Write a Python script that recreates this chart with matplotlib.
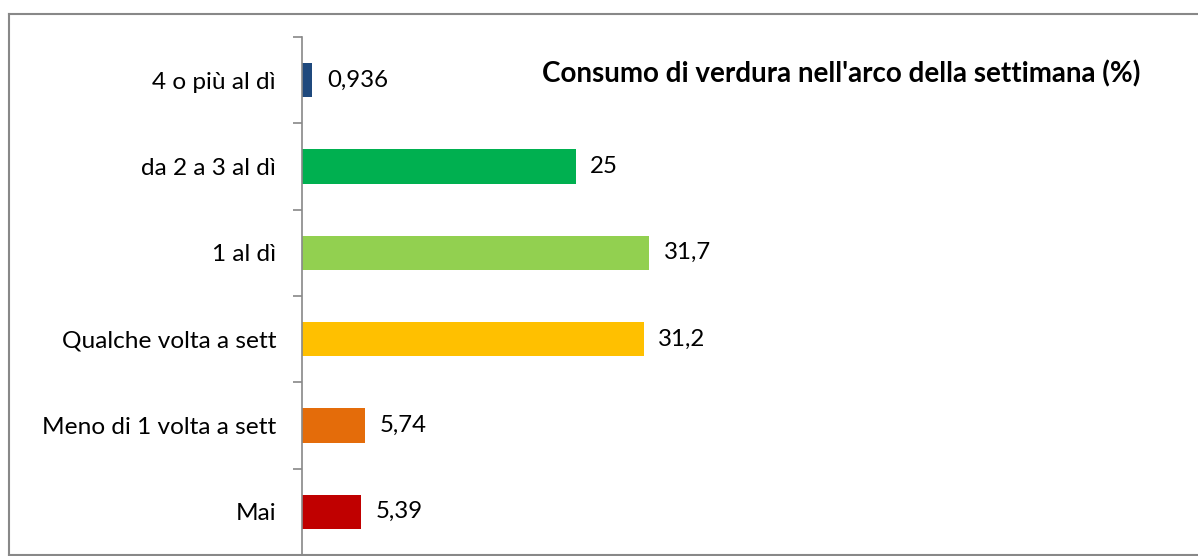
import matplotlib
matplotlib.use("Agg")
import matplotlib.pyplot as plt
from matplotlib.lines import Line2D
import numpy as np

# dati
categorie = ["4 o più al dì", "da 2 a 3 al dì", "1 al dì",
             "Qualche volta a sett", "Meno di 1 volta a sett", "Mai"]
valori = [0.936, 25, 31.7, 31.2, 5.74, 5.39]
etichette = ["0,936", "25", "31,7", "31,2", "5,74", "5,39"]
colori = ["#1F497D", "#00B050", "#92D050", "#FFC000", "#E46C0A", "#C00000"]
titolo = "Consumo di verdura nell'arco della settimana (%)"

plt.rcParams['font.family'] = ['Lato', 'DejaVu Sans']

W, H = 1198, 556
fig = plt.figure(figsize=(W / 100, H / 100), dpi=100)
ax = fig.add_axes([302 / W, 1 / H, (1190 - 302) / W, (555 - 37) / H])

y = np.arange(len(categorie))
ax.barh(y, valori, height=0.4, color=colori)
ax.set_ylim(len(categorie) - 0.5, -0.5)
ax.set_xlim(0, (1190 - 302) / 10.95)

for yi, v, t in zip(y, valori, etichette):
    ax.annotate(t, (v, yi), xytext=(10.5, 0), textcoords='offset points',
                va='center', ha='left', fontsize=17.3, color='#000000')

ax.set_yticks(y)
ax.set_yticklabels(categorie, fontsize=17.6)
ax.set_yticks(np.arange(len(categorie) + 1) - 0.5, minor=True)
ax.tick_params(axis='y', which='major', length=0, pad=18.7)
ax.tick_params(axis='y', which='minor', length=6.5, width=1.2, color='#888888')
ax.set_xticks([])
for s in ['top', 'right', 'bottom']:
    ax.spines[s].set_visible(False)
ax.spines['left'].set_color('#888888')
ax.spines['left'].set_linewidth(1.2)

fig.text(841 / W, 1 - 74 / H, titolo, ha='center', va='center',
         fontsize=20, fontweight='bold')

# cornice del grafico
x0, yt, yb = 8.5 / W, 1 - 14 / H, 1 / H
for xs, ys in [([x0, x0], [yb, yt]), ([x0, 1.01], [yt, yt]), ([x0, 1.01], [yb, yb])]:
    fig.add_artist(Line2D(xs, ys, color='#888888', lw=1.5, transform=fig.transFigure))

fig.savefig("out.png", dpi=100)
